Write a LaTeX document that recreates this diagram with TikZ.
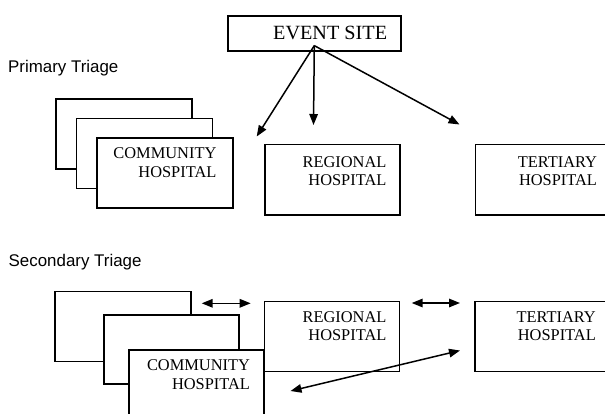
\documentclass[tikz,border=0pt]{standalone}
\usepackage{fontspec}
\setmainfont{Liberation Serif}
\newfontfamily\trfont{Liberation Sans}
\usetikzlibrary{positioning,arrows.meta}

\begin{document}
\begin{tikzpicture}[x=1pt,y=-1pt,
    box/.style={draw, fill=white, line width=1.6pt, anchor=north west, minimum width=136pt, minimum height=70pt, inner sep=0pt},
    txt/.style={inner sep=0pt, align=right, font=\fontsize{16.4}{18.5}\selectfont},
    head/.style={font=\trfont\fontsize{16.9}{20}\selectfont, anchor=west, inner sep=0pt},
    arr/.style={line width=1.5pt, -{Triangle[length=11pt,width=8.5pt]}},
    darr/.style={line width=1.5pt, {Triangle[length=11pt,width=8.5pt]}-{Triangle[length=11pt,width=8.5pt]}}]
    \useasboundingbox (0,0) rectangle (605,413);
    % primary triage
    \node[head] (p) at (8,68.5) {Primary Triage};
    \node[box, minimum width=173pt, minimum height=35pt] (site) at (227,15) {};
    \node[txt, font=\fontsize{20.2}{24}\selectfont, below left=11.3pt and 14.3pt of site.north east] (sitet) {EVENT SITE};
    \node[box] (ca) at (55,98) {};
    \node[box, below right=19.5pt and 20.5pt of ca.north west] (cb) {};
    \node[box, below right=19.5pt and 20.5pt of cb.north west] (cc) {};
    \node[txt, below left=10.8pt and 17pt of cc.north east] (cct) {COMMUNITY\\HOSPITAL};
    \node[box, minimum width=135pt, minimum height=70.5pt] (ra) at (264,143.5) {};
    \node[txt, below left=12.5pt and 14pt of ra.north east] (rat) {REGIONAL\\HOSPITAL};
    \node[box, minimum width=135pt, minimum height=70.5pt, right=74pt of ra] (ta) {};
    \node[txt, below left=12.5pt and 14pt of ta.north east] (tat) {TERTIARY\\HOSPITAL};
    \coordinate (o) at ([yshift=6pt]site.south);
    \coordinate (l) at (256.7,136.5);
    \coordinate (m) at (313.5,125);
    \coordinate (r) at (459.5,124.5);
    \draw[arr] (o) -- (l);
    \draw[arr] (o) -- (m);
    \draw[arr] (o) -- (r);
    % secondary triage
    \node[head] (s) at (8.5,262) {Secondary Triage};
    \node[box] (da) at (54,290.7) {};
    \node[box, minimum width=135pt, minimum height=69pt, below right=23.3pt and 49.3pt of da.north west] (db) {};
    \node[box, minimum width=135pt, below right=35.3pt and 24.7pt of db.north west] (dc) {};
    \node[txt, below left=10.2pt and 14.4pt of dc.north east] (dct) {COMMUNITY\\HOSPITAL};
    \node[box, minimum width=135pt] (rb) at (263.5,300.7) {};
    \node[txt, below left=10.5pt and 13.5pt of rb.north east] (rbt) {REGIONAL\\HOSPITAL};
    \node[box, minimum width=135pt, right=74pt of rb] (tb) {};
    \node[txt, below left=10.5pt and 14.7pt of tb.north east] (tbt) {TERTIARY\\HOSPITAL};
    \coordinate (a1) at (201.7,303.3);
    \coordinate (a2) at (250.7,303.3);
    \coordinate (b1) at (411.7,303);
    \coordinate (b2) at (460,303);
    \coordinate (d1) at (290.5,391);
    \coordinate (d2) at (460,350.5);
    \draw[darr] (a1) -- (a2);
    \draw[darr] (b1) -- (b2);
    \draw[darr] (d1) -- (d2);
\end{tikzpicture}
\end{document}
